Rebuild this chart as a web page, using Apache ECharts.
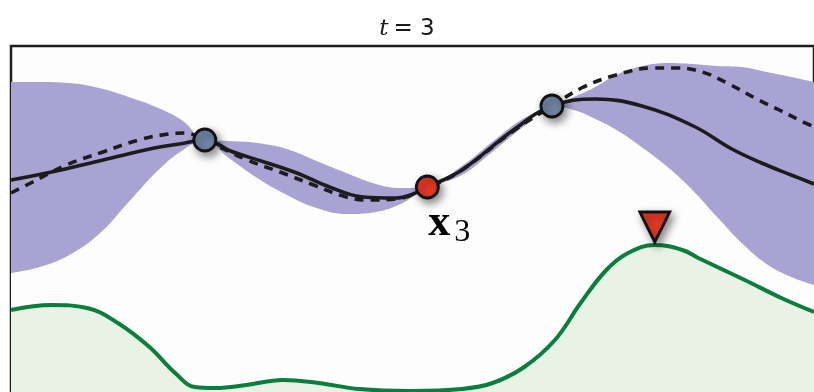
<!DOCTYPE html>
<html>
<head>
<meta charset="utf-8">
<script src="https://cdn.jsdelivr.net/npm/echarts@6/dist/echarts.min.js"></script>
<style>html,body{margin:0;padding:0;background:#fff}#c{width:814px;height:392px}</style>
</head>
<body>
<div id="c"></div>
<script>
// Posterior mean (solid)
const meanX = [11, 52, 104, 156, 187, 197, 207, 220, 233, 267, 300, 333, 367, 400, 415, 432, 467, 519, 558, 602, 649, 701, 740, 770, 800, 823];
const meanY = [212, 220, 232, 244, 249, 251, 252, 248, 241, 230, 219, 205, 195, 194, 197, 205, 222, 262, 286, 293, 286, 266, 243, 229, 217, 208];
// True objective (dashed)
const trueX = [11, 31, 67, 104, 140, 170, 187, 207, 250, 283, 317, 350, 373, 400, 432, 467, 519, 558, 590, 623, 659, 685, 710, 735, 767, 788, 808, 823];
const trueY = [199, 209, 227, 240, 252, 258, 259, 252, 232, 220, 207, 195, 192, 193, 204, 222, 261, 286, 305, 317, 324, 324, 320, 309, 292, 282, 272, 265];
// Confidence band
const bandX = [11, 40, 70, 100, 130, 160, 185, 207, 230, 260, 290, 320, 350, 380, 405, 432, 467, 500, 530, 558, 580, 600, 625, 650, 675, 700, 725, 750, 775, 800, 823];
const bandUpper = [310, 310, 309, 304, 295, 284, 271, 252, 251, 249, 243, 231, 219, 208, 204, 206, 226, 252, 274, 286, 295, 304, 318, 326, 329, 328, 326, 325, 320, 315, 310];
const bandLower = [119, 125, 137, 158, 190, 222, 242, 252, 235, 214, 197, 184, 178, 180, 188, 204, 217, 242, 266, 286, 282, 274, 261, 244, 225, 202, 175, 149, 128, 115, 107];
// Acquisition function (green)
const acqX = [11, 52, 88, 119, 151, 177, 197, 218, 249, 286, 322, 363, 415, 467, 498, 530, 561, 587, 613, 635, 662, 690, 706, 753, 790, 823];
const acqY = [82, 87, 84, 69, 45, 19, 5, 4, 7, 12, 9, 3, 1, 3, 9, 25, 52, 89, 122, 139, 147, 142, 134, 112, 94, 80];
// Observations
const obsX = [207, 558];
const obsY = [252, 286];
const newX = [432];
const newY = [205];
const newLabel = ['x', '3'];
// Acquisition maximum marker
const nextX = [662];
const nextY = [165];

const pairs = (xs, ys) => xs.map((x, i) => [x, ys[i]]);
const shadow = {opacity: 1, shadowBlur: 8, shadowColor: 'rgba(0,0,0,0.45)', shadowOffsetX: 3, shadowOffsetY: 4};
const plotBg = '#fdfdfd';

const chart = echarts.init(document.getElementById('c'), null, {renderer: 'canvas'});
chart.setOption({
  animation: false,
  backgroundColor: '#ffffff',
  title: {
    text: '{i|t} {n|= 3}',
    left: 'center',
    top: 13,
    textStyle: {
      fontWeight: 'normal',
      rich: {
        i: {fontFamily: 'DejaVu Serif', fontStyle: 'italic', fontWeight: 'normal', fontSize: 23, color: '#1a1a1a'},
        n: {fontFamily: 'DejaVu Sans', fontWeight: 'normal', fontSize: 23, color: '#1a1a1a'}
      }
    }
  },
  grid: {left: 11, top: 46, right: -9, bottom: 0, show: true, borderColor: '#1e1e1e', borderWidth: 2.5, backgroundColor: plotBg},
  xAxis: {type: 'value', min: 11, max: 823, show: false},
  yAxis: {type: 'value', min: 0, max: 346, show: false},
  series: [
    {type: 'line', name: 'bandUpper', data: pairs(bandX, bandUpper), smooth: 0.4, symbol: 'none', lineStyle: {width: 0, opacity: 0}, areaStyle: {color: '#a9a3d3', opacity: 1, origin: 'start'}, z: 1, silent: true},
    {type: 'line', name: 'bandLower', data: pairs(bandX, bandLower), smooth: 0.4, symbol: 'none', lineStyle: {width: 0, opacity: 0}, areaStyle: {color: plotBg, opacity: 1, origin: 'start'}, z: 2, silent: true},
    {type: 'line', name: 'acq', data: pairs(acqX, acqY), smooth: 0.4, symbol: 'none', lineStyle: {color: '#0b7d3c', width: 4}, areaStyle: {color: '#e8f3e6', opacity: 1, origin: 'start'}, z: 3},
    {type: 'line', name: 'true', data: pairs(trueX, trueY), smooth: 0.4, symbol: 'none', lineStyle: {color: '#1c1c1c', width: 3.6, type: [9, 7]}, z: 4},
    {type: 'line', name: 'mean', data: pairs(meanX, meanY), smooth: 0.4, symbol: 'none', lineStyle: {color: '#1c1c1c', width: 3.6}, z: 5},
    {type: 'scatter', name: 'obs', data: pairs(obsX, obsY), symbolSize: 22, itemStyle: Object.assign({color: '#7088a8', borderColor: '#111', borderWidth: 2.8}, shadow), z: 6},
    {type: 'scatter', name: 'new', data: pairs(newX, newY), symbolSize: 22, itemStyle: Object.assign({color: '#ea3a26', borderColor: '#111', borderWidth: 2.8}, shadow), z: 7},
    {type: 'scatter', name: 'newLabel', data: pairs(newX, newY), symbol: 'circle', symbolSize: 1, itemStyle: {color: 'rgba(0,0,0,0)', opacity: 1}, z: 8, silent: true,
      label: {show: true, opacity: 1, color: '#000', position: [1.5, 15], align: 'left', verticalAlign: 'top',
        formatter: '{x|' + newLabel[0] + '}{s|' + newLabel[1] + '}',
        rich: {
          x: {fontFamily: 'Liberation Serif', fontWeight: 'bold', fontSize: 44, color: '#000', lineHeight: 44, verticalAlign: 'top'},
          s: {fontFamily: 'Liberation Serif', fontWeight: 'normal', fontSize: 32, color: '#000', lineHeight: 44, verticalAlign: 'top', padding: [15, 0, 0, 4]}
        }}},
    {type: 'scatter', name: 'next', data: pairs(nextX, nextY), symbol: 'triangle', symbolRotate: 180, symbolSize: [30, 30], itemStyle: Object.assign({color: '#ea3a26', borderColor: '#111', borderWidth: 2.8}, shadow), z: 7}
  ]
});
</script>
</body>
</html>
